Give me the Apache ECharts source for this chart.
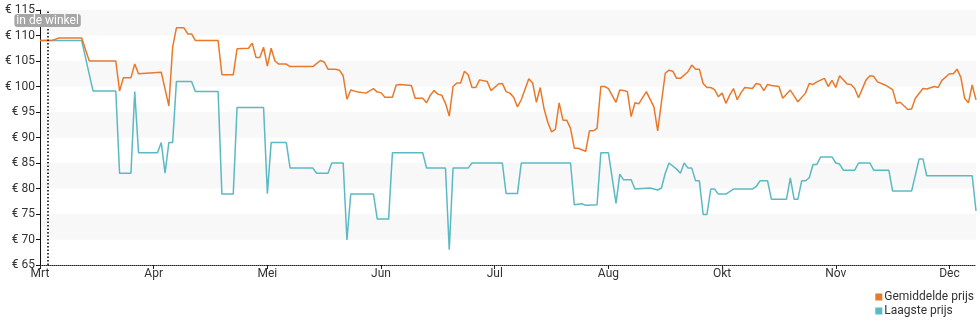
<!DOCTYPE html>
<html>
<head>
<meta charset="utf-8">
<script src="https://cdn.jsdelivr.net/npm/echarts@6/dist/echarts.min.js"></script>
<style>
html,body{margin:0;padding:0;background:#fff;}
#chart{width:980px;height:325px;}
</style>
</head>
<body>
<div id="chart"></div>
<script>
// Month labels (one per tick, 30 days apart on the day axis)
const monthLabels = ['Mrt','Apr','Mei','Jun','Jul','Aug','Okt','Nov','Dec'];
const monthTickDays = [0,30,60,90,120,150,180,210,240];
const storeMarkerDay = 2;
const storeMarkerLabel = 'in de winkel';

// Gemiddelde prijs (average price): day index and price in euro
const avgDays = [0,3,5,11,13,20,21,22,24,25,26,32,34,35,36,38,39,40,41,47,48,51,52,55,56,57,58,59,60,61,62,63,65,66,72,74,75,76,78,79,80,81,82,84,86,88,89,90,91,93,94,95,98,99,101,102,103,104,105,106,107,108,109,110,111,112,113,114,115,116,118,119,121,122,123,124,125,126,127,129,130,131,132,133,134,135,136,137,138,139,140,141,142,144,145,146,147,148,149,150,152,153,154,155,156,157,158,160,162,163,165,166,167,168,169,171,172,173,174,175,176,177,178,179,180,181,182,183,184,185,186,188,189,190,191,192,193,195,196,198,200,202,203,204,205,207,208,209,210,211,213,214,215,216,218,219,220,221,223,225,226,227,229,230,231,233,234,236,237,238,240,241,242,243,244,245,246,247];
const avgPrices = [109,109,109.5,109.5,105,105,99.1,101.7,101.7,104.4,102.5,102.8,96.2,107.7,111.5,111.5,110.3,110.3,109,109,102.3,102.3,107.4,107.5,108.5,105.7,105.7,107.7,104,107.5,105,104.4,104.4,103.9,103.9,105.1,104.8,103.4,103.4,103.2,102.1,97.5,99.3,98.9,98.7,99.6,98.9,98.8,97.9,97.9,100.3,100.4,100.2,97.7,97.7,96.8,98.3,99.2,98.5,98.3,96.7,94.2,100,100.7,100.7,103,102.3,99.8,99.8,101.3,101,99.2,100.5,100.6,99,98.7,97.9,96,97.4,101.5,100.7,96.9,99.8,95.7,93,91.1,91.6,96.8,93.4,93.4,91.8,87.9,87.9,87.3,91.3,91.3,91.8,100,100,99.6,96.9,99.3,99.2,99,94.1,96.8,96.6,99,96,91.3,102.6,103.2,103,101.6,101.6,102.9,104.2,103.4,103.4,100.6,99.8,99.8,99.4,98,98.7,96.7,98.3,99.6,97.4,98.8,99.8,99.6,100.6,100.4,99.2,100.4,100.2,100,97.7,99.3,97,98.7,100.6,100.4,100.9,101.6,100,101.2,99.8,102.1,100.5,100.4,99.6,97.8,101.3,102.1,102,100.9,100.3,99.4,96.7,96.9,95.5,95.6,97.7,99.6,99.5,100,99.8,101.2,102.5,102.5,103.4,101.8,97.7,96.8,100.3,97.4];

// Laagste prijs (lowest price): day index and price in euro
const lowDays = [0,11,14,20,21,24,25,26,31,32,33,34,35,36,40,41,47,48,51,52,59,60,61,65,66,72,73,76,77,80,81,82,88,89,92,93,101,102,107,108,109,113,114,122,123,126,127,140,141,143,144,147,148,150,152,153,154,156,157,161,163,164,165,166,168,169,170,171,172,173,174,175,176,177,178,179,181,183,188,189,190,192,193,197,198,199,200,201,202,203,204,205,206,209,210,211,212,215,216,219,220,224,225,230,232,233,234,246,247];
const lowPrices = [109,109,99.1,99.1,83,83,99,87,87,89,83,89,89,101,101,99,99,78.9,78.9,95.9,95.9,79,89,89,84,84,83,83,85,85,69.9,78.9,78.9,74,74,87,87,84,84,68,84,84,85,85,79,79,85,85,76.8,77,76.7,76.8,87,87,77.1,82.8,81.7,81.7,79.9,80.1,79.7,80.1,83,85,83.8,83,85,84,84,81.5,81.5,74.9,74.9,79.9,79.9,78.9,78.9,79.9,79.9,80.4,81.5,81.5,77.9,77.9,82.1,77.9,77.9,81.5,81.5,82.1,84.7,84.7,86.2,86.2,85,84.8,83.6,83.6,85,85,83.6,83.6,79.5,79.5,85.8,85.8,82.5,82.5,75.6];

// Y axis range / ticks (euro)
const yMin = 65, yMax = 115, yStep = 5;
const xMaxDay = 247;

const ORANGE = '#e9792a';
const TEAL = '#5bb9c3';
const FONT = 'Roboto';

const zip = (a, b) => a.map((d, i) => [d, b[i]]);

const chart = echarts.init(document.getElementById('chart'), null, {renderer: 'canvas'});
chart.setOption({
  animation: false,
  textStyle: {fontFamily: FONT},
  grid: {left: 40, right: 4, top: 10, bottom: 60, containLabel: false},
  legend: {
    orient: 'vertical',
    right: 6,
    top: 291,
    padding: 0,
    itemWidth: 7,
    itemHeight: 7,
    itemGap: 2,
    icon: 'rect',
    textStyle: {fontFamily: FONT, fontSize: 12, color: '#333', padding: [0,0,0,-3]},
    data: ['Gemiddelde prijs', 'Laagste prijs']
  },
  xAxis: {
    type: 'value',
    min: 0,
    max: xMaxDay,
    axisLine: {show: true, onZero: false, lineStyle: {color: '#222', type: [1, 1], width: 1}},
    axisTick: {show: true, length: 4, customValues: monthTickDays, lineStyle: {color: '#222'}},
    axisLabel: {
      customValues: monthTickDays,
      margin: 3,
      fontFamily: FONT,
      fontSize: 12,
      color: '#333',
      formatter: v => monthLabels[Math.round(v / 30)] || ''
    },
    splitLine: {show: false}
  },
  yAxis: {
    type: 'value',
    min: yMin,
    max: yMax,
    interval: yStep,
    axisLine: {show: true, lineStyle: {color: '#111', width: 1}},
    axisTick: {show: true, length: 4, lineStyle: {color: '#111'}},
    axisLabel: {
      margin: 5,
      fontFamily: FONT,
      fontSize: 12,
      color: '#333',
      formatter: v => '€ ' + v
    },
    splitLine: {show: false},
    splitArea: {show: true, areaStyle: {color: ['rgba(255,255,255,0)', '#f8f8f8']}}
  },
  series: [
    {
      name: 'Gemiddelde prijs',
      type: 'line',
      data: zip(avgDays, avgPrices),
      showSymbol: false,
      symbol: 'none',
      itemStyle: {color: ORANGE},
      lineStyle: {color: ORANGE, width: 1.5},
      z: 3,
      markLine: {
        silent: true,
        symbol: ['none', 'none'],
        lineStyle: {color: '#000', type: [1.5, 2], width: 1.5},
        label: {
          show: true,
          position: 'end',
          distance: -17,
          formatter: storeMarkerLabel,
          color: '#fff',
          fontFamily: FONT,
          fontSize: 12,
          backgroundColor: '#a6a6a6',
          borderRadius: 3,
          padding: [1, 2, 0, 2]
        },
        data: [{xAxis: storeMarkerDay}]
      }
    },
    {
      name: 'Laagste prijs',
      type: 'line',
      data: zip(lowDays, lowPrices),
      showSymbol: false,
      symbol: 'none',
      itemStyle: {color: TEAL},
      lineStyle: {color: TEAL, width: 1.5},
      z: 2
    }
  ]
});
</script>
</body>
</html>
